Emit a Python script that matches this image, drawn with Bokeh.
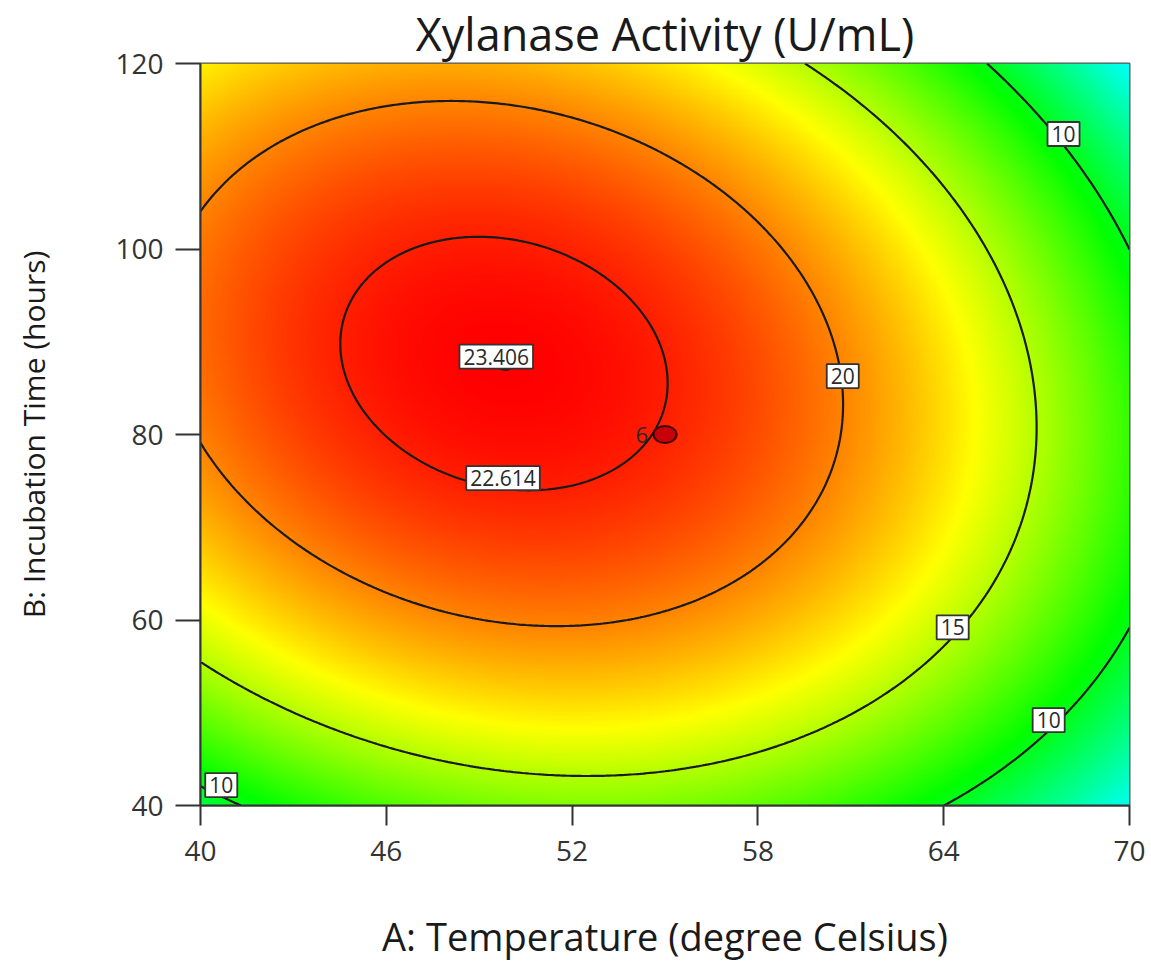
import numpy as np
from bokeh.plotting import figure
from bokeh.models import ColumnDataSource, FixedTicker
from bokeh.core.properties import value
from bokeh.embed import file_html
from bokeh.resources import INLINE

# ---------------- data ----------------
# fitted response surface (quadratic model) read off the contour geometry
peak_value = 23.408          # U/mL at the optimum
peak_temp = 49.8             # degree Celsius
peak_time = 87.65            # hours
curv_temp = 0.02912          # quadratic coefficient, temperature
curv_time = 0.004357         # quadratic coefficient, time
curv_cross = 0.003494        # interaction coefficient

contour_levels = [10, 15, 20, 22.614, 23.406]

label_texts = ["10", "20", "15", "10", "10", "22.614", "23.406"]
label_temp = [67.87, 60.74, 64.29, 67.39, 40.67, 49.77, 49.55]
label_time = [112.4, 86.3, 59.2, 49.2, 42.2, 75.3, 88.4]

design_temp = [55.0]
design_time = [80.0]
design_label = ["6"]

temp_ticks = [40, 46, 52, 58, 64, 70]
time_ticks = [40, 60, 80, 100, 120]

color_values = [-1.7, 4.6, 10.5, 16.8, 23.406]
color_stops = [(0, 0, 255), (0, 255, 255), (0, 255, 0), (255, 255, 0), (255, 0, 0)]

# ---------------- surface grid ----------------
temp_grid = np.linspace(40, 70, 301)
time_grid = np.linspace(40, 120, 301)
TT, HH = np.meshgrid(temp_grid, time_grid)
dT = TT - peak_temp
dH = HH - peak_time
Z = peak_value - (curv_temp * dT ** 2 + curv_time * dH ** 2 + curv_cross * dT * dH)

ny, nx = Z.shape
img = np.empty((ny, nx), dtype=np.uint32)
view = img.view(dtype=np.uint8).reshape((ny, nx, 4))
for ch in range(3):
    view[:, :, ch] = np.clip(np.interp(Z, color_values, [c[ch] for c in color_stops]), 0, 255).astype(np.uint8)
view[:, :, 3] = 255

FONT = "Open Sans"

p = figure(width=1151, height=970, x_range=(40, 70), y_range=(40, 120),
           output_backend="svg", toolbar_location=None,
           min_border_left=200, min_border_right=22, min_border_top=62, min_border_bottom=165,
           title="Xylanase Activity (U/mL)")

p.image_rgba(image=[img], x=40, y=40, dw=30, dh=80)
p.contour(x=temp_grid, y=time_grid, z=Z, levels=contour_levels,
          line_color="#1a1a1a", line_width=2.2)

src = ColumnDataSource(dict(x=label_temp, y=label_time, text=label_texts))
p.text(x="x", y="y", text="text", source=src, text_font=value(FONT),
       text_font_size="21px", text_color="#2a2a2a", text_align="center",
       text_baseline="middle", background_fill_color="white",
       border_line_color="#333333", border_line_width=1.8, padding=4)

dsrc = ColumnDataSource(dict(x=design_temp, y=design_time, text=design_label))
p.ellipse(x="x", y="y", width=23, height=17, width_units="screen", height_units="screen",
          source=dsrc, fill_color="#c8000a", line_color="#3a0000", line_width=2)
p.text(x="x", y="y", text="text", source=dsrc, text_font=value(FONT),
       text_font_size="22px", text_color="#2a2a2a", text_align="right",
       text_baseline="middle", x_offset=-17)

# ---------------- styling ----------------
p.title.text_font = FONT
p.title.text_font_size = "45px"
p.title.text_font_style = "normal"
p.title.text_color = "#1a1a1a"
p.title.align = "center"
p.title.standoff = 0

p.xaxis.ticker = FixedTicker(ticks=temp_ticks)
p.yaxis.ticker = FixedTicker(ticks=time_ticks)
p.xaxis.axis_label = "A: Temperature (degree Celsius)"
p.yaxis.axis_label = "B: Incubation Time (hours)"
for ax in (p.xaxis, p.yaxis):
    ax.axis_label_text_font = FONT
    ax.axis_label_text_font_style = "normal"
    ax.axis_label_text_color = "#1a1a1a"
    ax.major_label_text_font = FONT
    ax.major_label_text_font_size = "28px"
    ax.major_label_text_color = "#333333"
    ax.axis_line_color = "#333333"
    ax.axis_line_width = 2
    ax.major_tick_line_color = "#333333"
    ax.major_tick_line_width = 2
    ax.major_tick_in = 0
    ax.minor_tick_in = 0
    ax.minor_tick_out = 0
p.xaxis.axis_label_text_font_size = "38px"
p.yaxis.axis_label_text_font_size = "30px"
p.xaxis.major_tick_out = 20
p.yaxis.major_tick_out = 25
p.xaxis.major_label_standoff = 15
p.yaxis.major_label_standoff = 12
p.xaxis.axis_label_standoff = 46
p.yaxis.axis_label_standoff = 58

p.grid.visible = False
p.outline_line_color = "#555555"
p.outline_line_width = 2
p.background_fill_color = "white"
p.border_fill_color = "white"

open("out.html", "w").write(file_html(p, INLINE))
